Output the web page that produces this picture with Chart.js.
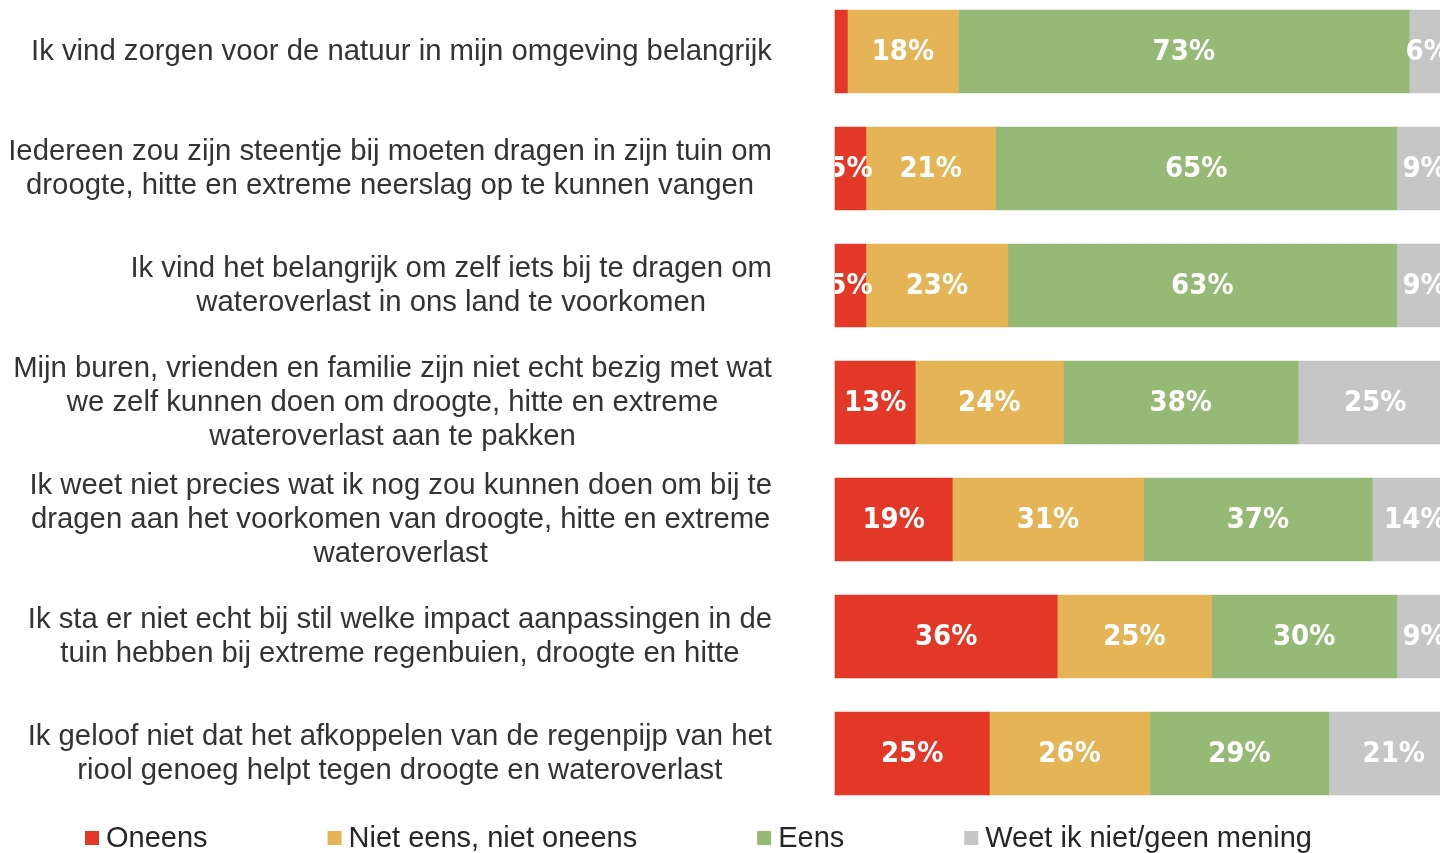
<!DOCTYPE html>
<html>
<head>
<meta charset="utf-8">
<script src="https://cdn.jsdelivr.net/npm/chart.js@4.4.0/dist/chart.umd.min.js"></script>
<style>
  html, body { margin: 0; padding: 0; background: #fff; overflow: hidden; }
  #wrap { width: 1440px; height: 853px; }
</style>
</head>
<body>
<div id="wrap"><canvas id="myChart"></canvas></div>
<script>
// stellingen (één regel per item in de array)
const statements = [
  ['Ik vind zorgen voor de natuur in mijn omgeving belangrijk'],
  ['Iedereen zou zijn steentje bij moeten dragen in zijn tuin om', 'droogte, hitte en extreme neerslag op te kunnen vangen'],
  ['Ik vind het belangrijk om zelf iets bij te dragen om', 'wateroverlast in ons land te voorkomen'],
  ['Mijn buren, vrienden en familie zijn niet echt bezig met wat', 'we zelf kunnen doen om droogte, hitte en extreme', 'wateroverlast aan te pakken'],
  ['Ik weet niet precies wat ik nog zou kunnen doen om bij te', 'dragen aan het voorkomen van droogte, hitte en extreme', 'wateroverlast'],
  ['Ik sta er niet echt bij stil welke impact aanpassingen in de', 'tuin hebben bij extreme regenbuien, droogte en hitte'],
  ['Ik geloof niet dat het afkoppelen van de regenpijp van het', 'riool genoeg helpt tegen droogte en wateroverlast']
];

const seriesNames = ['Oneens', 'Niet eens, niet oneens', 'Eens', 'Weet ik niet/geen mening'];
const oneens   = [2, 5, 5, 13, 19, 36, 25];
const neutraal = [18, 21, 23, 24, 31, 25, 26];
const eens     = [73, 65, 63, 38, 37, 30, 29];
const weetNiet = [6, 9, 9, 25, 14, 9, 21];

const colors = ['#e33827', '#e4b457', '#96ba76', '#c6c6c6'];

// labels links van de balken: blok rechts uitgelijnd, regels gecentreerd
const statementLabels = {
  id: 'statementLabels',
  afterDraw(chart) {
    const ctx = chart.ctx;
    const yScale = chart.scales.y;
    const right = chart.chartArea.left - 63;
    ctx.save();
    ctx.font = '29.3px "Liberation Sans", Arial, sans-serif';
    ctx.fillStyle = '#333333';
    ctx.textAlign = 'center';
    ctx.textBaseline = 'middle';
    statements.forEach((lines, i) => {
      const y = yScale.getPixelForValue(i);
      const blockW = Math.max(...lines.map(l => ctx.measureText(l).width));
      const cx = right - blockW / 2;
      const lineH = 34;
      const startY = y - (lines.length - 1) * lineH / 2;
      lines.forEach((l, j) => ctx.fillText(l, cx, startY + j * lineH));
    });
    ctx.restore();
  }
};

// percentages in de balken
const barValues = {
  id: 'barValues',
  afterDatasetsDraw(chart) {
    const ctx = chart.ctx;
    const area = chart.chartArea;
    ctx.save();
    ctx.beginPath();
    ctx.rect(area.left, 0, chart.width - area.left, chart.height);
    ctx.clip();
    ctx.font = 'bold 29px "DejaVu Sans Condensed", "DejaVu Sans", sans-serif';
    ctx.fillStyle = '#ffffff';
    ctx.textAlign = 'center';
    ctx.textBaseline = 'middle';
    chart.data.datasets.forEach((ds, d) => {
      chart.getDatasetMeta(d).data.forEach((bar, i) => {
        const v = ds.data[i];
        if (v < 3) return;
        ctx.fillText(v + '%', (bar.x + bar.base) / 2, bar.y + 1);
      });
    });
    ctx.restore();
  }
};

// legenda onderaan
const bottomLegend = {
  id: 'bottomLegend',
  afterDraw(chart) {
    const ctx = chart.ctx;
    let x = 85;
    const y = 838;
    ctx.save();
    ctx.font = '29px "Liberation Sans", Arial, sans-serif';
    ctx.textAlign = 'left';
    ctx.textBaseline = 'middle';
    chart.data.datasets.forEach(ds => {
      ctx.fillStyle = ds.backgroundColor;
      ctx.fillRect(x, y - 7, 14, 14);
      ctx.fillStyle = '#262626';
      ctx.fillText(ds.label, x + 21, y + 1);
      x += 21 + ctx.measureText(ds.label).width + 120;
    });
    ctx.restore();
  }
};

const ctx = document.getElementById('myChart').getContext('2d');

const myChart = new Chart(ctx, {
  type: 'bar',
  data: {
    labels: statements,
    datasets: [
      { label: seriesNames[0], data: oneens, backgroundColor: colors[0] },
      { label: seriesNames[1], data: neutraal, backgroundColor: colors[1] },
      { label: seriesNames[2], data: eens, backgroundColor: colors[2] },
      { label: seriesNames[3], data: weetNiet, backgroundColor: colors[3] }
    ]
  },
  options: {
    indexAxis: 'y',
    responsive: true,
    maintainAspectRatio: false,
    animation: false,
    datasets: { bar: { barThickness: 83, borderWidth: 0, clip: false } },
    layout: { padding: { left: 835, right: 0, top: 51.5, bottom: 99.5 } },
    scales: {
      // origineel is rechts afgesneden: 100% valt net buiten beeld
      x: { stacked: true, min: 0, max: 98, display: false },
      y: { stacked: true, display: false, offset: false }
    },
    plugins: {
      legend: { display: false },
      tooltip: { enabled: false }
    }
  },
  plugins: [statementLabels, barValues, bottomLegend]
});
</script>
</body>
</html>
